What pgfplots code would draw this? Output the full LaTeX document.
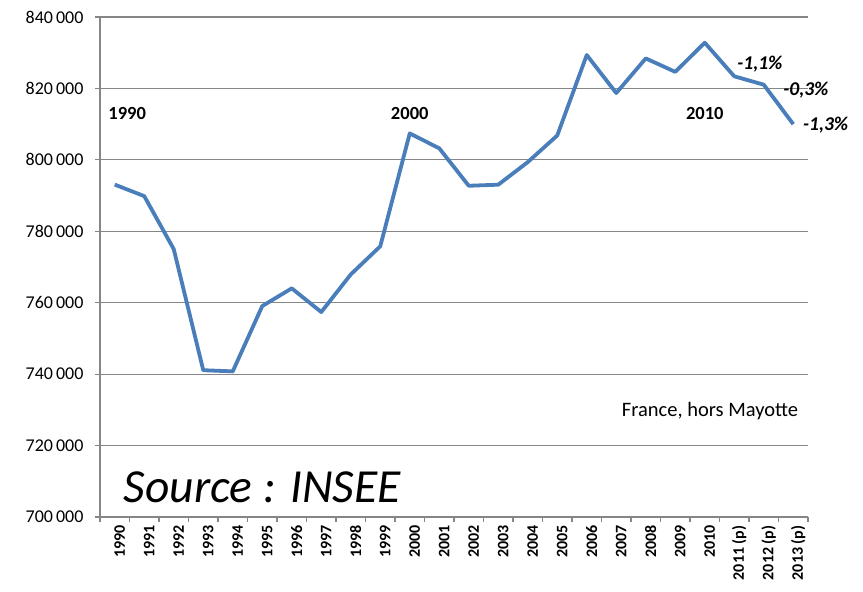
\documentclass[border=0pt]{standalone}
\usepackage{pgfplots}
\pgfplotsset{compat=1.18}
\usepackage{fontspec}
\setmainfont{Carlito}
\definecolor{excelblue}{HTML}{4A7EBB}
\definecolor{gridgray}{HTML}{868686}
\begin{document}
\begin{tikzpicture}
\useasboundingbox (0pt,0pt) rectangle (863pt,592pt);
\begin{axis}[
  at={(100pt,75pt)}, anchor=south west,
  scale only axis, width=708pt, height=500pt,
  xmin=-0.5, xmax=23.5, ymin=700000, ymax=840000,
  clip=false,
  axis x line*=bottom, axis y line*=left,
  axis line style={-, gridgray, line width=1.2pt},
  scaled y ticks=false,
  ytick={700000,720000,...,840000},
  yticklabels={700\thinspace000,720\thinspace000,740\thinspace000,760\thinspace000,780\thinspace000,800\thinspace000,820\thinspace000,840\thinspace000},
  ymajorgrids, major grid style={gridgray, line width=1.2pt},
  xtick={0,...,23},
  xticklabels={1990,1991,1992,1993,1994,1995,1996,1997,1998,1999,2000,2001,2002,2003,2004,2005,2006,2007,2008,2009,2010,2011 (p),2012 (p),2013 (p)},
  minor xtick={-0.5,0.5,...,23.5},
  major tick style={draw=none},
  minor tick style={draw=gridgray, line width=1.2pt},
  extra y ticks={700000,720000,...,840000}, extra y tick labels={},
  extra y tick style={major tick style={draw=gridgray, line width=1.2pt}, grid=none},
  tick align=outside, major tick length=5pt, minor tick length=5pt,
  xticklabel style={rotate=90, anchor=east, font=\bfseries\fontsize{16}{16}\selectfont, yshift=-5pt},
  yticklabel style={font=\fontsize{18}{18}\selectfont, xshift=-8pt},
]
\addplot[excelblue, line width=3.8pt, line join=round, mark=none] coordinates {
(0,793071) (1,789843) (2,775000) (3,741103) (4,740774) (5,759058)
(6,764028) (7,757384) (8,767906) (9,775796) (10,807405) (11,803234)
(12,792745) (13,793044) (14,799361) (15,806822) (16,829352) (17,818705)
(18,828404) (19,824641) (20,832799) (21,823394) (22,821047) (23,810000)
};
\node[font=\bfseries\fontsize{18.5}{18.5}\selectfont] at (axis cs:0.42,813100) {1990};
\node[font=\bfseries\fontsize{18.5}{18.5}\selectfont] at (axis cs:10,813100) {2000};
\node[font=\bfseries\fontsize{18.5}{18.5}\selectfont] at (axis cs:20,813100) {2010};
\node[font=\bfseries\itshape\fontsize{19.5}{19.5}\selectfont] at (axis cs:21.87,826840) {-1,1\%};
\node[font=\bfseries\itshape\fontsize{19.5}{19.5}\selectfont] at (axis cs:23.43,819560) {-0,3\%};
\node[font=\bfseries\itshape\fontsize{19.5}{19.5}\selectfont] at (axis cs:24.1,809760) {-1,3\%};
\node[font=\fontsize{20.5}{20.5}\selectfont] at (axis cs:20.18,729680) {France, hors Mayotte};
\node[font=\itshape\fontsize{47.5}{47.5}\selectfont] at (axis cs:5.0,708400) {Source : INSEE};
\end{axis}
\end{tikzpicture}
\end{document}
